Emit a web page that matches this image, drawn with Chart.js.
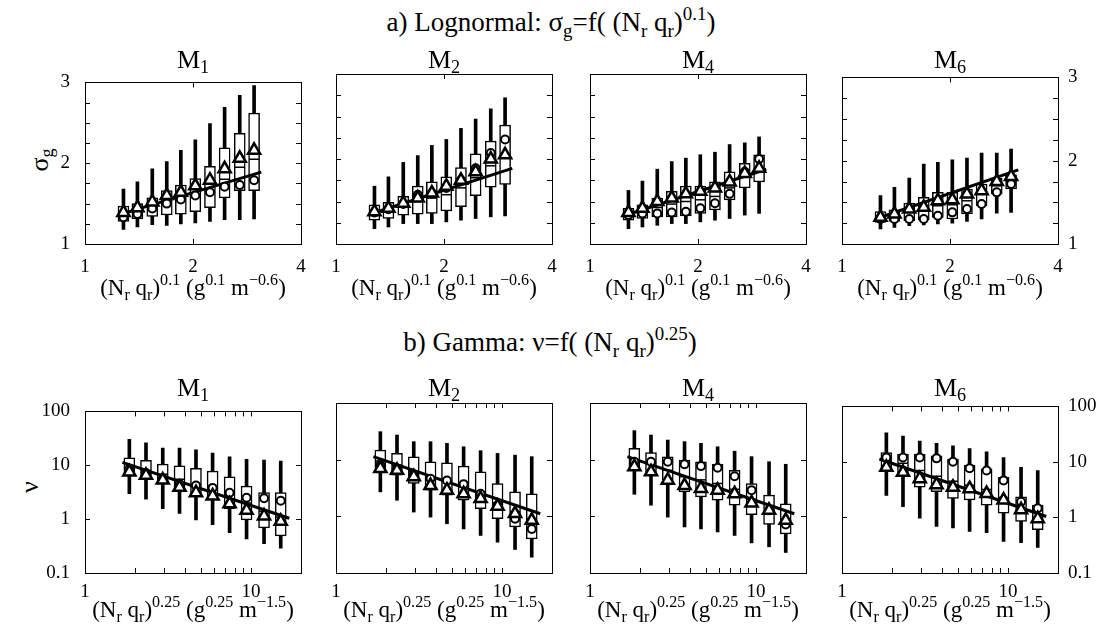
<!DOCTYPE html>
<html>
<head>
<meta charset="utf-8">
<script src="https://cdn.jsdelivr.net/npm/chart.js@4.4.0/dist/chart.umd.min.js"></script>
<style>
    body { margin: 0; background: #fff; width: 1109px; height: 636px; position: relative; overflow: hidden;
           font-family: "Liberation Serif", "Times New Roman", "DejaVu Serif", serif; color: #000; }
    .panel { position: absolute; }
    .txt { position: absolute; white-space: nowrap; line-height: 1; transform: translateX(-50%); }
    .ylab { position: absolute; white-space: nowrap; line-height: 1; transform: translate(-50%, -50%) rotate(-90deg); }
    sub, sup { font-size: 0.7em; line-height: 0; position: relative; vertical-align: baseline; }
    sub { top: 0.3em; }
    sup { top: -0.6em; }
</style>
</head>
<body>
<div class="txt" style="left:551px; top:9px; font-size:27px">a) Lognormal: &sigma;<sub>g</sub>=f( (N<sub>r</sub> q<sub>r</sub>)<sup>0.1</sup>)</div>
<div class="txt" style="left:550px; top:329px; font-size:27px">b) Gamma: &nu;=f( (N<sub>r</sub> q<sub>r</sub>)<sup>0.25</sup>)</div>
<div class="ylab" style="left:40px; top:160px; font-size:26px">&sigma;<sub>g</sub></div>
<div class="ylab" style="left:30px; top:487px; font-size:26px">&nu;</div>

<script>
// bin centres
const xTop = [1.28, 1.40, 1.54, 1.69, 1.85, 2.03, 2.23, 2.45, 2.70, 2.96];
const xBot = [1.85, 2.33, 2.94, 3.71, 4.66, 5.87, 7.43, 9.40, 11.98, 15.1];
const xFitTop = [1.24, 3.1];
const xFitBot = [1.68, 17.0];

const panelNames = ["1", "2", "4", "6"];

const topXTicks = [1, 2, 4];
const topXLabels = [1, 2, 4];
const botXTicks = [1, 2, 3, 4, 5, 6, 7, 8, 9, 10];
const botXLabels = [1, 10];
const topYTicks = [1, 1.25, 1.5, 1.75, 2, 2.25, 2.5, 2.75, 3];
const topYLabels = [1, 2, 3];
const botYTicks = [0.1, 1, 10, 100];
const botYLabels = [0.1, 1, 10, 100];

// a) lognormal sigma_g
const sM1_wLo = [1.18, 1.21, 1.24, 1.23, 1.25, 1.26, 1.28, 1.30, 1.30, 1.31];
const sM1_wHi = [1.68, 1.77, 1.93, 2.02, 2.16, 2.29, 2.49, 2.69, 2.84, 2.96];
const sM1_bLo = [1.28, 1.31, 1.34, 1.36, 1.37, 1.40, 1.45, 1.57, 1.66, 1.66];
const sM1_bHi = [1.47, 1.50, 1.57, 1.66, 1.73, 1.81, 1.96, 2.19, 2.37, 2.62];
const sM1_med = [1.36, 1.40, 1.45, 1.50, 1.54, 1.60, 1.66, 1.80, 1.95, 2.05];
const sM1_circ = [1.33, 1.37, 1.44, 1.50, 1.55, 1.60, 1.64, 1.71, 1.73, 1.79];
const sM1_tri = [1.39, 1.45, 1.52, 1.60, 1.64, 1.72, 1.79, 1.93, 2.06, 2.16];
const sM1_fit = [1.36, 1.89];

const sM2_wLo = [1.18, 1.20, 1.24, 1.24, 1.24, 1.26, 1.28, 1.30, 1.32, 1.33];
const sM2_wHi = [1.68, 1.79, 1.96, 2.04, 2.16, 2.23, 2.36, 2.47, 2.59, 2.72];
const sM2_bLo = [1.28, 1.30, 1.34, 1.35, 1.36, 1.39, 1.44, 1.57, 1.67, 1.70];
const sM2_bHi = [1.46, 1.49, 1.56, 1.68, 1.73, 1.79, 1.90, 2.06, 2.21, 2.40];
const sM2_med = [1.36, 1.39, 1.44, 1.50, 1.54, 1.58, 1.66, 1.78, 1.92, 2.05];
const sM2_circ = [1.37, 1.41, 1.47, 1.58, 1.60, 1.66, 1.75, 1.89, 2.07, 2.23];
const sM2_tri = [1.38, 1.42, 1.48, 1.54, 1.60, 1.68, 1.75, 1.85, 2.00, 2.05];
const sM2_fit = [1.35, 1.89];

const sM4_wLo = [1.18, 1.20, 1.22, 1.24, 1.24, 1.26, 1.28, 1.30, 1.34, 1.36];
const sM4_wHi = [1.63, 1.74, 1.88, 1.97, 2.01, 2.05, 2.08, 2.17, 2.19, 2.26];
const sM4_bLo = [1.28, 1.30, 1.32, 1.32, 1.33, 1.36, 1.40, 1.52, 1.66, 1.73];
const sM4_bHi = [1.42, 1.46, 1.54, 1.62, 1.68, 1.68, 1.73, 1.85, 1.95, 2.05];
const sM4_med = [1.35, 1.38, 1.43, 1.47, 1.50, 1.52, 1.56, 1.66, 1.80, 1.90];
const sM4_circ = [1.34, 1.36, 1.36, 1.37, 1.38, 1.42, 1.48, 1.59, 1.85, 2.00];
const sM4_tri = [1.37, 1.42, 1.50, 1.54, 1.59, 1.62, 1.66, 1.73, 1.83, 1.89];
const sM4_fit = [1.33, 1.88];

const sM6_wLo = [1.18, 1.20, 1.22, 1.23, 1.24, 1.25, 1.27, 1.30, 1.37, 1.38];
const sM6_wHi = [1.58, 1.68, 1.79, 1.96, 1.98, 2.01, 2.03, 2.09, 2.09, 2.14];
const sM6_bLo = [1.26, 1.27, 1.28, 1.29, 1.32, 1.30, 1.36, 1.46, 1.60, 1.66];
const sM6_bHi = [1.39, 1.41, 1.49, 1.56, 1.62, 1.62, 1.66, 1.72, 1.79, 1.83];
const sM6_med = [1.32, 1.34, 1.38, 1.42, 1.46, 1.47, 1.52, 1.60, 1.70, 1.75];
const sM6_circ = [1.30, 1.30, 1.30, 1.30, 1.34, 1.38, 1.42, 1.48, 1.62, 1.72];
const sM6_tri = [1.32, 1.36, 1.42, 1.44, 1.52, 1.53, 1.60, 1.64, 1.75, 1.81];
const sM6_fit = [1.30, 1.89];

// b) gamma nu
const nM1_wLo = [2.97, 2.36, 1.57, 1.28, 0.97, 0.79, 0.56, 0.43, 0.35, 0.29];
const nM1_wHi = [30.4, 26.2, 20.8, 20.8, 19.4, 16.9, 14.4, 12.9, 12.5, 12.0];
const nM1_bLo = [6.5, 5.5, 4.97, 3.54, 2.89, 2.52, 1.57, 0.97, 0.69, 0.49];
const nM1_bHi = [13.8, 12.4, 10.5, 9.8, 8.8, 7.8, 6.1, 4.1, 3.1, 3.1];
const nM1_med = [9.0, 8.0, 6.8, 5.5, 4.5, 3.9, 2.9, 2.0, 1.4, 1.1];
const nM1_circ = [8.6, 7.2, 5.6, 4.5, 4.2, 3.8, 3.1, 2.5, 2.45, 2.2];
const nM1_tri = [7.5, 6.5, 5.3, 3.9, 3.1, 2.7, 1.92, 1.46, 1.14, 0.91];
const nM1_fit = [11.3, 1.04];

const nM2_wLo = [2.7, 1.92, 1.19, 0.97, 0.74, 0.6, 0.46, 0.35, 0.26, 0.19];
const nM2_wHi = [31.2, 27.2, 20.8, 20.8, 19.4, 16.9, 14.4, 12.9, 12.0, 11.3];
const nM2_bLo = [7.0, 5.3, 3.8, 2.9, 2.36, 1.92, 1.37, 0.91, 0.65, 0.40];
const nM2_bHi = [14.7, 12.9, 11.2, 9.2, 8.8, 7.7, 6.1, 3.8, 2.7, 2.5];
const nM2_med = [9.5, 8.0, 6.3, 5.0, 4.2, 3.5, 2.7, 1.7, 1.2, 0.9];
const nM2_circ = [8.0, 7.0, 5.5, 4.6, 4.3, 3.7, 2.5, 1.57, 0.91, 0.60];
const nM2_tri = [7.0, 6.5, 5.0, 3.5, 2.9, 2.5, 2.06, 1.5, 1.12, 0.85];
const nM2_fit = [11.3, 1.11];

const nM4_wLo = [2.45, 1.57, 0.97, 0.65, 0.6, 0.53, 0.46, 0.34, 0.29, 0.23];
const nM4_wHi = [32.5, 27.2, 22.2, 20.8, 19.4, 16.9, 14.1, 11.3, 9.2, 8.3];
const nM4_bLo = [7.0, 5.7, 4.35, 2.7, 2.2, 1.92, 1.57, 1.07, 0.72, 0.49];
const nM4_bHi = [15.8, 13.3, 11.2, 9.8, 9.2, 8.3, 6.5, 3.8, 2.36, 1.67];
const nM4_med = [10.0, 8.5, 6.5, 5.0, 4.4, 3.8, 3.0, 2.0, 1.3, 0.9];
const nM4_circ = [9.2, 9.2, 9.2, 8.3, 7.7, 7.2, 5.1, 2.9, 1.28, 0.72];
const nM4_tri = [7.5, 6.1, 4.35, 3.5, 3.1, 2.9, 2.5, 1.72, 1.28, 0.85];
const nM4_fit = [11.3, 1.11];

const nM6_wLo = [2.5, 1.57, 0.97, 0.69, 0.65, 0.56, 0.53, 0.37, 0.35, 0.29];
const nM6_wHi = [33.4, 29.2, 23.8, 21.6, 19.4, 17.4, 15.2, 12.0, 8.0, 7.0];
const nM6_bLo = [7.5, 6.1, 3.5, 2.9, 2.2, 2.06, 1.67, 1.19, 0.85, 0.6];
const nM6_bHi = [14.7, 13.8, 13.8, 12.9, 11.2, 8.8, 7.5, 5.3, 2.36, 1.67];
const nM6_med = [10.5, 9.5, 7.0, 5.5, 4.5, 3.8, 3.2, 2.3, 1.4, 1.0];
const nM6_circ = [12.0, 12.0, 12.0, 11.6, 10.1, 7.7, 7.0, 4.65, 1.92, 1.46];
const nM6_tri = [8.0, 6.5, 5.0, 3.9, 3.5, 3.3, 2.7, 2.06, 1.37, 0.95];
const nM6_fit = [11.3, 1.04];

// layout (pixels of each plot frame)
const frameLeft = [85, 336, 590, 842];
const frameWidth = 216;
const frameHeight = 170;
const rowTop = [74, 403];

const tickFont = { family: '"Liberation Serif", "Times New Roman", serif', size: 19 };

// little inward tick marks on all four sides, like the original figure
const innerTicks = {
    id: "innerTicks",
    afterDraw(chart) {
        const ctx = chart.ctx;
        const a = chart.chartArea;
        const sx = chart.scales.x;
        const sy = chart.scales.y;
        ctx.save();
        ctx.strokeStyle = "#000";
        ctx.lineWidth = 1;
        ctx.beginPath();
        sx.ticks.forEach(function(t) {
            const px = Math.round(sx.getPixelForValue(t.value)) + 0.5;
            ctx.moveTo(px, a.bottom); ctx.lineTo(px, a.bottom - 5);
            ctx.moveTo(px, a.top); ctx.lineTo(px, a.top + 5);
        });
        sy.ticks.forEach(function(t) {
            const py = Math.round(sy.getPixelForValue(t.value)) + 0.5;
            ctx.moveTo(a.left, py); ctx.lineTo(a.left + 5, py);
            ctx.moveTo(a.right, py); ctx.lineTo(a.right - 5, py);
        });
        ctx.stroke();
        ctx.restore();
    }
};

function pts(xs, ys) {
    return xs.map(function(x, i) { return { x: x, y: ys[i] }; });
}

function ranges(xs, lo, hi) {
    return xs.map(function(x, i) { return { x: x, y: [lo[i], hi[i]] }; });
}

function xScale(isTop, pos) {
    const ticks = isTop ? topXTicks : botXTicks;
    const labels = isTop ? topXLabels : botXLabels;
    return {
        type: "logarithmic",
        position: pos,
        min: 1,
        max: isTop ? 4 : 20,
        offset: false,
        grid: { display: false, offset: false },
        border: { display: true, color: "#000", width: 1 },
        afterBuildTicks: function(s) { s.ticks = ticks.map(function(v) { return { value: v }; }); },
        afterFit: function(s) { s.height = pos === "top" ? 10 : 40; },
        ticks: {
            display: pos === "bottom",
            autoSkip: false,
            maxRotation: 0,
            padding: isTop ? 4 : 0,
            color: "#000",
            font: tickFont,
            callback: function(v) { return labels.includes(v) ? String(v) : ""; }
        }
    };
}

function yScale(isTop, pos, show) {
    const ticks = isTop ? topYTicks : botYTicks;
    const labels = isTop ? topYLabels : botYLabels;
    return {
        type: isTop ? "linear" : "logarithmic",
        position: pos,
        min: isTop ? 1 : 0.1,
        max: isTop ? 3 : 100,
        grid: { display: false },
        border: { display: true, color: "#000", width: 1 },
        afterBuildTicks: function(s) { s.ticks = ticks.map(function(v) { return { value: v }; }); },
        afterFit: function(s) { s.width = 60; },
        ticks: {
            display: show,
            autoSkip: false,
            padding: pos === "left" ? 7 : 2,
            color: "#000",
            font: tickFont,
            callback: function(v) { return labels.includes(v) ? String(v) : ""; }
        }
    };
}

function addText(html, left, top, size) {
    const div = document.createElement("div");
    div.className = "txt";
    div.style.left = left + "px";
    div.style.top = top + "px";
    div.style.fontSize = size + "px";
    div.innerHTML = html;
    document.body.appendChild(div);
}

function makePanel(row, col, d) {
    const isTop = row === 0;
    const left = frameLeft[col];
    const top = rowTop[row];
    const xs = isTop ? xTop : xBot;
    const xFit = isTop ? xFitTop : xFitBot;

    const wrap = document.createElement("div");
    wrap.className = "panel";
    wrap.style.left = (left - 60) + "px";
    wrap.style.top = (top - 10) + "px";
    wrap.style.width = (frameWidth + 120) + "px";
    wrap.style.height = (frameHeight + 50) + "px";
    const canvas = document.createElement("canvas");
    wrap.appendChild(canvas);
    document.body.appendChild(wrap);

    new Chart(canvas, {
        type: "bar",
        data: {
            datasets: [
                { type: "line", data: pts(xs, d.tri), showLine: false, pointStyle: "triangle", pointRadius: 7,
                  pointBorderWidth: 2.5, pointBackgroundColor: "#fff", pointBorderColor: "#000", order: 1 },
                { type: "line", data: pts(xs, d.circ), showLine: false, pointStyle: "circle", pointRadius: 4,
                  pointBorderWidth: 2, pointBackgroundColor: "#fff", pointBorderColor: "#000", order: 2 },
                { type: "line", data: pts(xFit, d.fit), borderColor: "#000", borderWidth: 3, pointRadius: 0, order: 3 },
                { type: "line", data: pts(xs, d.med), showLine: false, pointStyle: "line", pointRadius: 5,
                  pointBorderWidth: 1.5, pointBorderColor: "#000", order: 4 },
                { type: "bar", data: ranges(xs, d.bLo, d.bHi), backgroundColor: "#fff", borderColor: "#000",
                  borderWidth: 1.5, borderSkipped: false, barThickness: 11, grouped: false, order: 5 },
                { type: "bar", data: ranges(xs, d.wLo, d.wHi), backgroundColor: "#000", borderWidth: 0,
                  barThickness: 3, grouped: false, order: 6 }
            ]
        },
        options: {
            responsive: true,
            maintainAspectRatio: false,
            animation: false,
            events: [],
            layout: { padding: 0 },
            plugins: { legend: { display: false }, tooltip: { enabled: false } },
            scales: {
                x: xScale(isTop, "bottom"),
                x2: xScale(isTop, "top"),
                y: yScale(isTop, "left", col === 0),
                y2: yScale(isTop, "right", col === 3)
            }
        },
        plugins: [innerTicks]
    });

    const cx = left + frameWidth / 2;
    addText("M<sub>" + panelNames[col] + "</sub>", cx, isTop ? 47 : 375, 26);
    if (isTop) {
        addText("(N<sub>r</sub> q<sub>r</sub>)<sup>0.1</sup> (g<sup>0.1</sup> m<sup>&minus;0.6</sup>)", cx, 276, 23);
    } else {
        addText("(N<sub>r</sub> q<sub>r</sub>)<sup>0.25</sup> (g<sup>0.25</sup> m<sup>&minus;1.5</sup>)", cx, 598, 23);
    }
}

document.addEventListener("DOMContentLoaded", function() {
    makePanel(0, 0, { wLo: sM1_wLo, wHi: sM1_wHi, bLo: sM1_bLo, bHi: sM1_bHi, med: sM1_med, circ: sM1_circ, tri: sM1_tri, fit: sM1_fit });
    makePanel(0, 1, { wLo: sM2_wLo, wHi: sM2_wHi, bLo: sM2_bLo, bHi: sM2_bHi, med: sM2_med, circ: sM2_circ, tri: sM2_tri, fit: sM2_fit });
    makePanel(0, 2, { wLo: sM4_wLo, wHi: sM4_wHi, bLo: sM4_bLo, bHi: sM4_bHi, med: sM4_med, circ: sM4_circ, tri: sM4_tri, fit: sM4_fit });
    makePanel(0, 3, { wLo: sM6_wLo, wHi: sM6_wHi, bLo: sM6_bLo, bHi: sM6_bHi, med: sM6_med, circ: sM6_circ, tri: sM6_tri, fit: sM6_fit });
    makePanel(1, 0, { wLo: nM1_wLo, wHi: nM1_wHi, bLo: nM1_bLo, bHi: nM1_bHi, med: nM1_med, circ: nM1_circ, tri: nM1_tri, fit: nM1_fit });
    makePanel(1, 1, { wLo: nM2_wLo, wHi: nM2_wHi, bLo: nM2_bLo, bHi: nM2_bHi, med: nM2_med, circ: nM2_circ, tri: nM2_tri, fit: nM2_fit });
    makePanel(1, 2, { wLo: nM4_wLo, wHi: nM4_wHi, bLo: nM4_bLo, bHi: nM4_bHi, med: nM4_med, circ: nM4_circ, tri: nM4_tri, fit: nM4_fit });
    makePanel(1, 3, { wLo: nM6_wLo, wHi: nM6_wHi, bLo: nM6_bLo, bHi: nM6_bHi, med: nM6_med, circ: nM6_circ, tri: nM6_tri, fit: nM6_fit });
});
</script>
</body>
</html>
